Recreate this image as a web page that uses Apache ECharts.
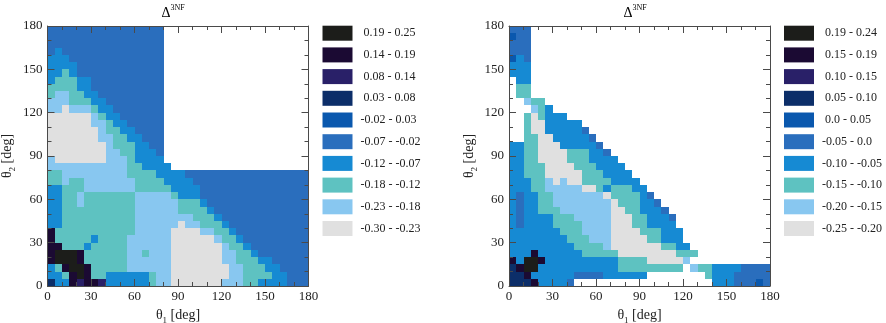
<!DOCTYPE html>
<html>
<head>
<meta charset="utf-8">
<script src="https://cdn.jsdelivr.net/npm/echarts@6/dist/echarts.min.js"></script>
<style>
  html, body { margin: 0; padding: 0; background: #fff; }
  #chart { width: 886px; height: 323px; }
</style>
</head>
<body>
<div id="chart"></div>
<script>
// one string per row, top row = theta2 175-180, column = theta1 in 5 deg steps
// digit = legend class (0 = top of legend), '.' or missing = no data
const leftRows = [
  "5555555555555555",
  "5555555555555555",
  "5555555555555555",
  "5655555555555555",
  "6665555555555555",
  "6666555555555555",
  "6676555555555555",
  "6777665555555555",
  "7777665555555555",
  "7887766555555555",
  "8887776655555555",
  "8898887665555555",
  "9999998766555555",
  "9999998876655555",
  "9999999877665555",
  "9999999887766555",
  "9999999987776655",
  "9999999988776665",
  "8999999988876666",
  "88888888888776666",
  "778888888887777666655555555555555555",
  "778778888888777766665555555555555555",
  "667778888888777776666555555555555555",
  "667787777777888887666555555555555555",
  "667787777777888888777655555555555555",
  "667777777777888888777765555555555555",
  "667777777777888888887776555555555555",
  "667777777777888888988777655555555555",
  "177777777777888889999887765555555555",
  "177777677778888889999998776555555555",
  "117776777778888889999999877655555555",
  "100017777778878889999999887765555555",
  "100017777778888889999999887776655555",
  "671001777778888889999999988777665555",
  "667101776666667889999999988777766555",
  "366121126666667889999999888776666555"
];

const rightRows = [
  "555",
  "455",
  "555",
  "555",
  "465",
  "666",
  "666",
  ".66",
  ".77",
  ".77",
  "..877",
  "...876",
  "..797666",
  "..79966666",
  "..799666665",
  "..7799666665",
  "6677999666665",
  "66779999777665",
  "667799997776666",
  "6677799997776666",
  "66777999997776666",
  "666778989977776666",
  "6667788888997677766",
  "65667788888889777765",
  "656677888888889777665",
  "6566777888888899776665",
  "65666677788888999776665",
  "65666677778888999776666",
  "666666677788889999777666",
  "666666667778889999977666",
  "6666666667777899999997766",
  "66616666667777799999999777",
  "1600166666666667777999998",
  "310066666666666777777777.87766665555",
  "3316666665555666666........766655555",
  "333166665...................66655545"
];

const leftLabels = [
  " 0.19 - 0.25", " 0.14 - 0.19", " 0.08 - 0.14", " 0.03 - 0.08", "-0.02 - 0.03",
  "-0.07 - -0.02", "-0.12 - -0.07", "-0.18 - -0.12", "-0.23 - -0.18", "-0.30 - -0.23"
];
const rightLabels = [
  " 0.19 - 0.24", " 0.15 - 0.19", " 0.10 - 0.15", " 0.05 - 0.10", " 0.0 - 0.05",
  "-0.05 - 0.0", "-0.10 - -0.05", "-0.15 - -0.10", "-0.20 - -0.15", "-0.25 - -0.20"
];
const classColors = [
  "#1c1d1a", "#1b0a33", "#292068", "#0c2e69", "#0a58ae",
  "#2a6ebd", "#168ad3", "#5ec2c1", "#88c7f0", "#e0e0e0"
];

const cellDeg = 5;
const serif = "Liberation Serif";
const frame = "#4a4a4a";

function buildCells(rows) {
  const out = [];
  rows.forEach(function (row, r) {
    for (let c = 0; c < row.length; c++) {
      const ch = row[c];
      if (ch >= "0" && ch <= "9") out.push([c * cellDeg, 180 - cellDeg - r * cellDeg, Number(ch)]);
    }
  });
  return out;
}

function drawCell(params, api) {
  const x = api.value(0), y = api.value(1);
  const a = api.coord([x, y + cellDeg]);
  const b = api.coord([x + cellDeg, y]);
  const x0 = Math.round(a[0]), y0 = Math.round(a[1]);
  const x1 = Math.round(b[0]), y1 = Math.round(b[1]);
  return {
    type: "rect",
    shape: { x: x0, y: y0, width: x1 - x0, height: y1 - y0 },
    style: { fill: api.visual("color") }
  };
}

const nameRich = {
  t: { fontFamily: serif, fontSize: 14, color: "#222", lineHeight: 20 },
  s: { fontFamily: serif, fontSize: 9, color: "#222", lineHeight: 10, verticalAlign: "bottom" }
};

function axisBase(gi) {
  return {
    type: "value", gridIndex: gi, min: 0, max: 180, interval: 30, z: 10,
    axisLine: { show: true, onZero: false, lineStyle: { color: frame, width: 1 } },
    axisTick: { show: true, inside: true, length: 7, lineStyle: { color: frame } },
    minorTick: { show: true, splitNumber: 3, length: 4, lineStyle: { color: frame } },
    splitLine: { show: false },
    minorSplitLine: { show: false }
  };
}

function xAxes(gi) {
  return [
    Object.assign(axisBase(gi), {
      position: "bottom",
      name: "{t|θ}{s|1}{t| [deg]}", nameLocation: "middle", nameGap: 12,
      nameTextStyle: { rich: nameRich },
      axisLabel: { margin: 4, color: "#222", fontFamily: serif, fontSize: 13, hideOverlap: false }
    }),
    Object.assign(axisBase(gi), { position: "top", axisLabel: { show: false } })
  ];
}

function yAxes(gi) {
  return [
    Object.assign(axisBase(gi), {
      position: "left",
      name: "{t|θ}{s|2}{t| [deg]}", nameLocation: "middle", nameGap: 30,
      nameTextStyle: { rich: nameRich },
      axisLabel: { margin: 5, color: "#222", fontFamily: serif, fontSize: 13, hideOverlap: false }
    }),
    Object.assign(axisBase(gi), { position: "right", axisLabel: { show: false } })
  ];
}

function legendFor(labels, left, seriesIndex) {
  return {
    type: "piecewise", seriesIndex: seriesIndex, dimension: 2,
    orient: "vertical", inverse: true, align: "left",
    left: left, top: 25.7, padding: 0,
    itemWidth: 30, itemHeight: 15, itemGap: 6.7, textGap: 8,
    itemSymbol: "rect", selectedMode: false, hoverLink: false,
    pieces: labels.map(function (label, i) { return { value: i, label: label, color: classColors[i] }; }),
    textStyle: { color: "#222", fontFamily: serif, fontSize: 12 }
  };
}

function titleText(x) {
  return {
    type: "text", x: x, y: 13,
    style: {
      text: "{d|Δ}{s|3NF}", align: "center", verticalAlign: "middle",
      rich: {
        d: { fontFamily: serif, fontSize: 14, color: "#222", lineHeight: 18 },
        s: { fontFamily: serif, fontSize: 8, color: "#222", lineHeight: 9, verticalAlign: "top" }
      }
    }
  };
}

const chart = echarts.init(document.getElementById("chart"));
chart.setOption({
  animation: false,
  backgroundColor: "#fff",
  grid: [
    { left: 47.5, top: 26, width: 261, height: 260, outerBoundsMode: "none" },
    { left: 509, top: 26, width: 261, height: 260, outerBoundsMode: "none" }
  ],
  xAxis: xAxes(0).concat(xAxes(1)),
  yAxis: yAxes(0).concat(yAxes(1)),
  visualMap: [legendFor(leftLabels, 322.5, 0), legendFor(rightLabels, 784, 1)],
  graphic: [titleText(173), titleText(635)],
  series: [
    {
      type: "custom", xAxisIndex: 0, yAxisIndex: 0, clip: true,
      encode: { x: 0, y: 1 }, renderItem: drawCell, data: buildCells(leftRows)
    },
    {
      type: "custom", xAxisIndex: 2, yAxisIndex: 2, clip: true,
      encode: { x: 0, y: 1 }, renderItem: drawCell, data: buildCells(rightRows)
    }
  ]
});
</script>
</body>
</html>
